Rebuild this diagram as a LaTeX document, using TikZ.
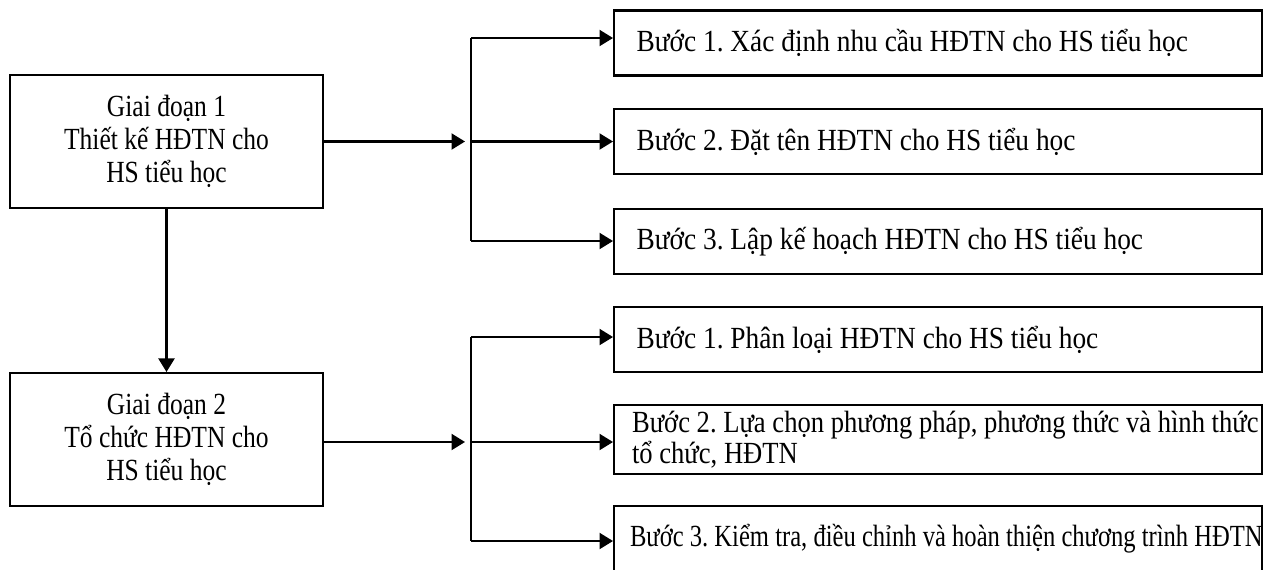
\documentclass[tikz,border=0pt]{standalone}
\usepackage{fontspec}
\setmainfont{Liberation Serif}
\newfontfamily\stagefont[FakeStretch=0.83]{Liberation Serif}
\newfontfamily\stepfont[FakeStretch=0.89]{Liberation Serif}
\newfontfamily\midfont[FakeStretch=0.865]{Liberation Serif}
\newfontfamily\narrowfont[FakeStretch=0.80]{Liberation Serif}
\usetikzlibrary{arrows.meta}

\begin{document}
\frenchspacing
\begin{tikzpicture}[x=0.02cm, y=-0.02cm, line width=1.2pt, >={Triangle[length=0.27cm, width=0.32cm]}]
\tikzstyle{stage}=[draw, rectangle, minimum width=6.26cm, minimum height=2.66cm, inner sep=0pt, align=center, font=\stagefont\fontsize{17.5}{18.8}\selectfont]
\tikzstyle{stepbox}=[draw, rectangle, minimum width=12.96cm, minimum height=1.3cm, inner xsep=0.45cm, text width=12.06cm, align=flush left, font=\stepfont\fontsize{17.5}{18.8}\selectfont]
\useasboundingbox (0,0) rectangle (1271,569);

\node[stage]    (s1) at (166.5,141.5) {Giai đoạn 1\\Thiết kế HĐTN cho\\HS tiểu học};
\node[stage]    (s2) at (166.5,439.5) {Giai đoạn 2\\Tổ chức HĐTN cho\\HS tiểu học};

\node[stepbox]  (b1) at (938,43)    {Bước 1. Xác định nhu cầu HĐTN cho HS tiểu học};
\node[stepbox]  (b2) at (938,141.5) {Bước 2. Đặt tên HĐTN cho HS tiểu học};
\node[stepbox]  (b3) at (938,241.5) {Bước 3. Lập kế hoạch HĐTN cho HS tiểu học};

\node[stepbox]  (c1) at (938,339.5) {Bước 1. Phân loại HĐTN cho HS tiểu học};
\node[stepbox, inner xsep=0.36cm, text width=12.24cm, font=\midfont\fontsize{17.5}{15.4}\selectfont]
                (c2) at (938,439.5) {\mbox{Bước 2. Lựa chọn phương pháp, phương thức và hình thức}\\tổ chức, HĐTN};
\node[stepbox, inner xsep=0.32cm, text width=12.32cm, font=\narrowfont\fontsize{17.5}{18.8}\selectfont]
                (c3) at (938,538.5) {\mbox{Bước 3. Kiểm tra, điều chỉnh và hoàn thiện chương trình HĐTN}};

% bus lines
\coordinate (in1) at (465,141.5);
\coordinate (in2) at (465,442);
\coordinate (j11) at (471,38);
\coordinate (j12) at (471,141.5);
\coordinate (j13) at (471,241);
\coordinate (j21) at (471,337);
\coordinate (j22) at (471,442);
\coordinate (j23) at (471,541);
\draw (j11) -- (j13);
\draw (j21) -- (j23);

\path[->]
(s1) edge (s2)
(s1) edge (in1)
(s2.east |- in2) edge (in2)

(j11) edge (j11 -| b1.west)
(j12) edge (j12 -| b2.west)
(j13) edge (j13 -| b3.west)

(j21) edge (j21 -| c1.west)
(j22) edge (j22 -| c2.west)
(j23) edge (j23 -| c3.west);

\end{tikzpicture}
\end{document}
